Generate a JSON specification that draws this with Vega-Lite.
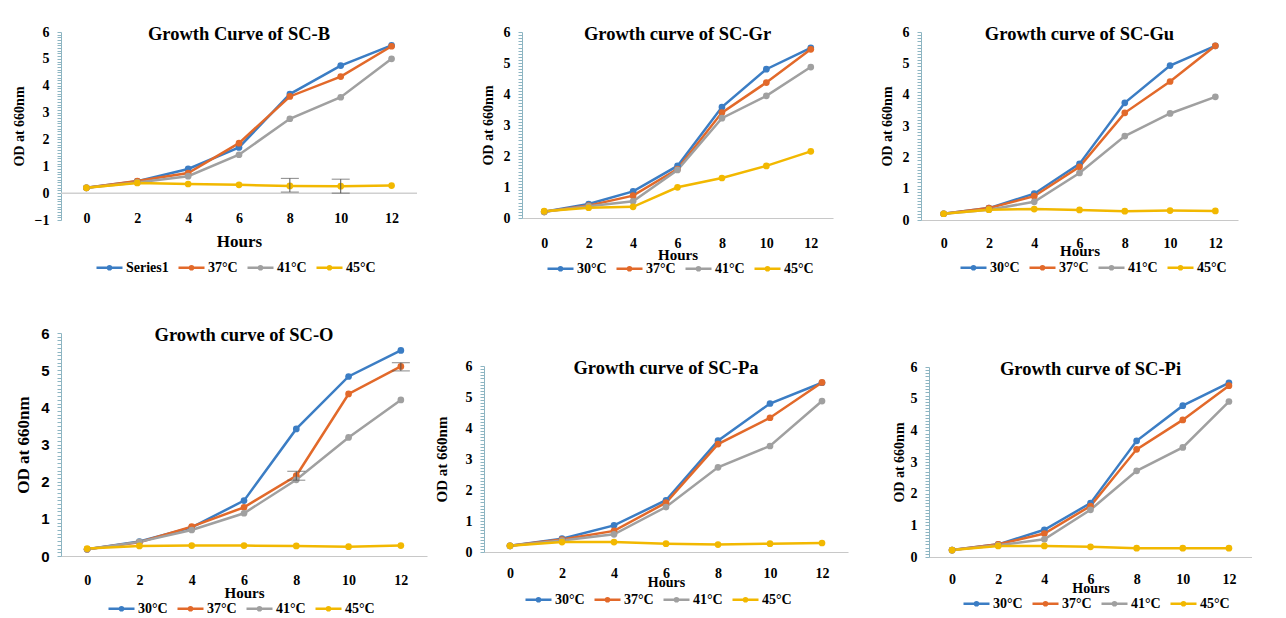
{
"$schema": "https://vega.github.io/schema/vega-lite/v6.json",
"padding": {"left": 12, "top": 24, "right": 0, "bottom": 0},
"background": "white",
"datasets": {
"d": [
{"p":"B","s":"Series1","h":0,"v":0.2},{"p":"B","s":"Series1","h":2,"v":0.44},{"p":"B","s":"Series1","h":4,"v":0.9},{"p":"B","s":"Series1","h":6,"v":1.7},{"p":"B","s":"Series1","h":8,"v":3.69},{"p":"B","s":"Series1","h":10,"v":4.75},{"p":"B","s":"Series1","h":12,"v":5.5},
{"p":"B","s":"37°C","h":0,"v":0.2},{"p":"B","s":"37°C","h":2,"v":0.45},{"p":"B","s":"37°C","h":4,"v":0.75},{"p":"B","s":"37°C","h":6,"v":1.86},{"p":"B","s":"37°C","h":8,"v":3.6},{"p":"B","s":"37°C","h":10,"v":4.34},{"p":"B","s":"37°C","h":12,"v":5.47},
{"p":"B","s":"41°C","h":0,"v":0.2},{"p":"B","s":"41°C","h":2,"v":0.4},{"p":"B","s":"41°C","h":4,"v":0.63},{"p":"B","s":"41°C","h":6,"v":1.43},{"p":"B","s":"41°C","h":8,"v":2.77},{"p":"B","s":"41°C","h":10,"v":3.57},{"p":"B","s":"41°C","h":12,"v":5.0},
{"p":"B","s":"45°C","h":0,"v":0.2},{"p":"B","s":"45°C","h":2,"v":0.38},{"p":"B","s":"45°C","h":4,"v":0.34},{"p":"B","s":"45°C","h":6,"v":0.31},{"p":"B","s":"45°C","h":8,"v":0.27},{"p":"B","s":"45°C","h":10,"v":0.26},{"p":"B","s":"45°C","h":12,"v":0.28},
{"p":"Gr","s":"30°C","h":0,"v":0.2},{"p":"Gr","s":"30°C","h":2,"v":0.45},{"p":"Gr","s":"30°C","h":4,"v":0.86},{"p":"Gr","s":"30°C","h":6,"v":1.68},{"p":"Gr","s":"30°C","h":8,"v":3.58},{"p":"Gr","s":"30°C","h":10,"v":4.8},{"p":"Gr","s":"30°C","h":12,"v":5.49},
{"p":"Gr","s":"37°C","h":0,"v":0.2},{"p":"Gr","s":"37°C","h":2,"v":0.4},{"p":"Gr","s":"37°C","h":4,"v":0.72},{"p":"Gr","s":"37°C","h":6,"v":1.58},{"p":"Gr","s":"37°C","h":8,"v":3.4},{"p":"Gr","s":"37°C","h":10,"v":4.37},{"p":"Gr","s":"37°C","h":12,"v":5.44},
{"p":"Gr","s":"41°C","h":0,"v":0.2},{"p":"Gr","s":"41°C","h":2,"v":0.38},{"p":"Gr","s":"41°C","h":4,"v":0.54},{"p":"Gr","s":"41°C","h":6,"v":1.55},{"p":"Gr","s":"41°C","h":8,"v":3.22},{"p":"Gr","s":"41°C","h":10,"v":3.94},{"p":"Gr","s":"41°C","h":12,"v":4.87},
{"p":"Gr","s":"45°C","h":0,"v":0.22},{"p":"Gr","s":"45°C","h":2,"v":0.33},{"p":"Gr","s":"45°C","h":4,"v":0.36},{"p":"Gr","s":"45°C","h":6,"v":0.99},{"p":"Gr","s":"45°C","h":8,"v":1.29},{"p":"Gr","s":"45°C","h":10,"v":1.68},{"p":"Gr","s":"45°C","h":12,"v":2.15},
{"p":"Gu","s":"30°C","h":0,"v":0.2},{"p":"Gu","s":"30°C","h":2,"v":0.38},{"p":"Gu","s":"30°C","h":4,"v":0.84},{"p":"Gu","s":"30°C","h":6,"v":1.79},{"p":"Gu","s":"30°C","h":8,"v":3.74},{"p":"Gu","s":"30°C","h":10,"v":4.93},{"p":"Gu","s":"30°C","h":12,"v":5.56},
{"p":"Gu","s":"37°C","h":0,"v":0.2},{"p":"Gu","s":"37°C","h":2,"v":0.38},{"p":"Gu","s":"37°C","h":4,"v":0.76},{"p":"Gu","s":"37°C","h":6,"v":1.7},{"p":"Gu","s":"37°C","h":8,"v":3.42},{"p":"Gu","s":"37°C","h":10,"v":4.42},{"p":"Gu","s":"37°C","h":12,"v":5.56},
{"p":"Gu","s":"41°C","h":0,"v":0.2},{"p":"Gu","s":"41°C","h":2,"v":0.33},{"p":"Gu","s":"41°C","h":4,"v":0.58},{"p":"Gu","s":"41°C","h":6,"v":1.5},{"p":"Gu","s":"41°C","h":8,"v":2.68},{"p":"Gu","s":"41°C","h":10,"v":3.4},{"p":"Gu","s":"41°C","h":12,"v":3.93},
{"p":"Gu","s":"45°C","h":0,"v":0.2},{"p":"Gu","s":"45°C","h":2,"v":0.33},{"p":"Gu","s":"45°C","h":4,"v":0.35},{"p":"Gu","s":"45°C","h":6,"v":0.32},{"p":"Gu","s":"45°C","h":8,"v":0.28},{"p":"Gu","s":"45°C","h":10,"v":0.3},{"p":"Gu","s":"45°C","h":12,"v":0.29},
{"p":"O","s":"30°C","h":0,"v":0.18},{"p":"O","s":"30°C","h":2,"v":0.39},{"p":"O","s":"30°C","h":4,"v":0.77},{"p":"O","s":"30°C","h":6,"v":1.49},{"p":"O","s":"30°C","h":8,"v":3.42},{"p":"O","s":"30°C","h":10,"v":4.83},{"p":"O","s":"30°C","h":12,"v":5.53},
{"p":"O","s":"37°C","h":0,"v":0.18},{"p":"O","s":"37°C","h":2,"v":0.37},{"p":"O","s":"37°C","h":4,"v":0.79},{"p":"O","s":"37°C","h":6,"v":1.31},{"p":"O","s":"37°C","h":8,"v":2.16},{"p":"O","s":"37°C","h":10,"v":4.36},{"p":"O","s":"37°C","h":12,"v":5.1},
{"p":"O","s":"41°C","h":0,"v":0.18},{"p":"O","s":"41°C","h":2,"v":0.38},{"p":"O","s":"41°C","h":4,"v":0.7},{"p":"O","s":"41°C","h":6,"v":1.15},{"p":"O","s":"41°C","h":8,"v":2.05},{"p":"O","s":"41°C","h":10,"v":3.19},{"p":"O","s":"41°C","h":12,"v":4.2},
{"p":"O","s":"45°C","h":0,"v":0.2},{"p":"O","s":"45°C","h":2,"v":0.27},{"p":"O","s":"45°C","h":4,"v":0.28},{"p":"O","s":"45°C","h":6,"v":0.28},{"p":"O","s":"45°C","h":8,"v":0.27},{"p":"O","s":"45°C","h":10,"v":0.25},{"p":"O","s":"45°C","h":12,"v":0.28},
{"p":"Pa","s":"30°C","h":0,"v":0.2},{"p":"Pa","s":"30°C","h":2,"v":0.43},{"p":"Pa","s":"30°C","h":4,"v":0.86},{"p":"Pa","s":"30°C","h":6,"v":1.67},{"p":"Pa","s":"30°C","h":8,"v":3.59},{"p":"Pa","s":"30°C","h":10,"v":4.79},{"p":"Pa","s":"30°C","h":12,"v":5.46},
{"p":"Pa","s":"37°C","h":0,"v":0.2},{"p":"Pa","s":"37°C","h":2,"v":0.4},{"p":"Pa","s":"37°C","h":4,"v":0.68},{"p":"Pa","s":"37°C","h":6,"v":1.59},{"p":"Pa","s":"37°C","h":8,"v":3.48},{"p":"Pa","s":"37°C","h":10,"v":4.33},{"p":"Pa","s":"37°C","h":12,"v":5.47},
{"p":"Pa","s":"41°C","h":0,"v":0.2},{"p":"Pa","s":"41°C","h":2,"v":0.37},{"p":"Pa","s":"41°C","h":4,"v":0.57},{"p":"Pa","s":"41°C","h":6,"v":1.45},{"p":"Pa","s":"41°C","h":8,"v":2.73},{"p":"Pa","s":"41°C","h":10,"v":3.42},{"p":"Pa","s":"41°C","h":12,"v":4.87},
{"p":"Pa","s":"45°C","h":0,"v":0.2},{"p":"Pa","s":"45°C","h":2,"v":0.32},{"p":"Pa","s":"45°C","h":4,"v":0.32},{"p":"Pa","s":"45°C","h":6,"v":0.27},{"p":"Pa","s":"45°C","h":8,"v":0.24},{"p":"Pa","s":"45°C","h":10,"v":0.27},{"p":"Pa","s":"45°C","h":12,"v":0.29},
{"p":"Pi","s":"30°C","h":0,"v":0.22},{"p":"Pi","s":"30°C","h":2,"v":0.4},{"p":"Pi","s":"30°C","h":4,"v":0.86},{"p":"Pi","s":"30°C","h":6,"v":1.7},{"p":"Pi","s":"30°C","h":8,"v":3.67},{"p":"Pi","s":"30°C","h":10,"v":4.78},{"p":"Pi","s":"30°C","h":12,"v":5.5},
{"p":"Pi","s":"37°C","h":0,"v":0.22},{"p":"Pi","s":"37°C","h":2,"v":0.4},{"p":"Pi","s":"37°C","h":4,"v":0.74},{"p":"Pi","s":"37°C","h":6,"v":1.61},{"p":"Pi","s":"37°C","h":8,"v":3.4},{"p":"Pi","s":"37°C","h":10,"v":4.33},{"p":"Pi","s":"37°C","h":12,"v":5.41},
{"p":"Pi","s":"41°C","h":0,"v":0.22},{"p":"Pi","s":"41°C","h":2,"v":0.37},{"p":"Pi","s":"41°C","h":4,"v":0.56},{"p":"Pi","s":"41°C","h":6,"v":1.49},{"p":"Pi","s":"41°C","h":8,"v":2.72},{"p":"Pi","s":"41°C","h":10,"v":3.46},{"p":"Pi","s":"41°C","h":12,"v":4.91},
{"p":"Pi","s":"45°C","h":0,"v":0.22},{"p":"Pi","s":"45°C","h":2,"v":0.35},{"p":"Pi","s":"45°C","h":4,"v":0.35},{"p":"Pi","s":"45°C","h":6,"v":0.32},{"p":"Pi","s":"45°C","h":8,"v":0.28},{"p":"Pi","s":"45°C","h":10,"v":0.28},{"p":"Pi","s":"45°C","h":12,"v":0.28}
],
"e": [
{"p":"B","h":8,"lo":0.04,"hi":0.55},{"p":"B","h":10,"lo":0.0,"hi":0.52},
{"p":"O","h":8,"lo":2.04,"hi":2.28},{"p":"O","h":12,"lo":4.98,"hi":5.2}
],
"z": [{"y":0}]
},
"vconcat": [
{"hconcat": [
 {"hconcat": [
 {"width":356,"height":188,"title":"Growth Curve of SC-B",
  "layer":[
  {"data":{"name":"z"},"mark":{"type":"rule","color":"#D0D0D0","strokeWidth":1.5},"encoding":{"y":{"field":"y","type":"quantitative","title":"OD at 660nm","scale":{"domain":[-1,6],"nice":false,"zero":false},"axis":{"values":[-1,-0.9,-0.8,-0.7,-0.6,-0.5,-0.4,-0.3,-0.2,-0.1,0,0.1,0.2,0.3,0.4,0.5,0.6,0.7,0.8,0.9,1,1.1,1.2,1.3,1.4,1.5,1.6,1.7,1.8,1.9,2,2.1,2.2,2.3,2.4,2.5,2.6,2.7,2.8,2.9,3,3.1,3.2,3.3,3.4,3.5,3.6,3.7,3.8,3.9,4,4.1,4.2,4.3,4.4,4.5,4.6,4.7,4.8,4.9,5,5.1,5.2,5.3,5.4,5.5,5.6,5.7,5.8,5.9,6]}}}},
  {"data":{"name":"d"},"transform":[{"filter":"datum.p==='B'"}],"mark":{"type":"line","strokeWidth":2.5,"point":{"filled":true,"size":45}},
   "encoding":{
    "x":{"field":"h","type":"ordinal","title":"Hours","scale":{"type":"point","padding":0.5,"domain":[0,2,4,6,8,10,12]},"axis":{"domain":false,"labelPadding":-9,"titlePadding":8,"titleFontSize":17}},
    "y":{"field":"v","type":"quantitative","title":"OD at 660nm","scale":{"domain":[-1,6],"nice":false,"zero":false},"axis":{"values":[-1,-0.9,-0.8,-0.7,-0.6,-0.5,-0.4,-0.3,-0.2,-0.1,0,0.1,0.2,0.3,0.4,0.5,0.6,0.7,0.8,0.9,1,1.1,1.2,1.3,1.4,1.5,1.6,1.7,1.8,1.9,2,2.1,2.2,2.3,2.4,2.5,2.6,2.7,2.8,2.9,3,3.1,3.2,3.3,3.4,3.5,3.6,3.7,3.8,3.9,4,4.1,4.2,4.3,4.4,4.5,4.6,4.7,4.8,4.9,5,5.1,5.2,5.3,5.4,5.5,5.6,5.7,5.8,5.9,6]}},
    "color":{"field":"s","type":"nominal","scale":{"domain":["Series1","37°C","41°C","45°C"],"range":["#3B7DC4","#E2692A","#A0A0A0","#F2B800"]},"legend":{"title":null,"orient":"none","direction":"horizontal","legendX":34,"legendY":221}}}},
  {"data":{"name":"e"},"transform":[{"filter":"datum.p==='B'"}],"mark":{"type":"errorbar","ticks":true,"color":"#555555","thickness":1},
   "encoding":{"x":{"field":"h","type":"ordinal"},"y":{"field":"lo","type":"quantitative","title":"OD at 660nm","axis":{"values":[-1,-0.9,-0.8,-0.7,-0.6,-0.5,-0.4,-0.3,-0.2,-0.1,0,0.1,0.2,0.3,0.4,0.5,0.6,0.7,0.8,0.9,1,1.1,1.2,1.3,1.4,1.5,1.6,1.7,1.8,1.9,2,2.1,2.2,2.3,2.4,2.5,2.6,2.7,2.8,2.9,3,3.1,3.2,3.3,3.4,3.5,3.6,3.7,3.8,3.9,4,4.1,4.2,4.3,4.4,4.5,4.6,4.7,4.8,4.9,5,5.1,5.2,5.3,5.4,5.5,5.6,5.7,5.8,5.9,6]}},"y2":{"field":"hi"}}}
  ]},
 {"width":311,"height":186,"title":"Growth curve of SC-Gr",
  "data":{"name":"d"},"transform":[{"filter":"datum.p==='Gr'"}],"mark":{"type":"line","strokeWidth":2.5,"point":{"filled":true,"size":45}},
  "encoding":{
   "x":{"field":"h","type":"ordinal","title":"Hours","scale":{"type":"point","padding":0.5,"domain":[0,2,4,6,8,10,12]},"axis":{"labelPadding":18,"titlePadding":-3}},
   "y":{"field":"v","type":"quantitative","title":"OD at 660nm","scale":{"domain":[0,6],"nice":false},"axis":{"values":[0,0.1,0.2,0.3,0.4,0.5,0.6,0.7,0.8,0.9,1,1.1,1.2,1.3,1.4,1.5,1.6,1.7,1.8,1.9,2,2.1,2.2,2.3,2.4,2.5,2.6,2.7,2.8,2.9,3,3.1,3.2,3.3,3.4,3.5,3.6,3.7,3.8,3.9,4,4.1,4.2,4.3,4.4,4.5,4.6,4.7,4.8,4.9,5,5.1,5.2,5.3,5.4,5.5,5.6,5.7,5.8,5.9,6]}},
   "color":{"field":"s","type":"nominal","scale":{"domain":["30°C","37°C","41°C","45°C"],"range":["#3B7DC4","#E2692A","#A0A0A0","#F2B800"]},"legend":{"title":null,"orient":"none","direction":"horizontal","legendX":24,"legendY":222}}}}
 ], "spacing": 63, "resolve":{"scale":{"color":"independent","x":"independent","y":"independent"},"legend":{"color":"independent"}}},
 {"width":317,"height":188,"title":"Growth curve of SC-Gu",
  "data":{"name":"d"},"transform":[{"filter":"datum.p==='Gu'"}],"mark":{"type":"line","strokeWidth":2.5,"point":{"filled":true,"size":45}},
  "encoding":{
   "x":{"field":"h","type":"ordinal","title":"Hours","scale":{"type":"point","padding":0.5,"domain":[0,2,4,6,8,10,12]},"axis":{"labelPadding":16,"titlePadding":-7}},
   "y":{"field":"v","type":"quantitative","title":"OD at 660nm","scale":{"domain":[0,6],"nice":false},"axis":{"values":[0,0.1,0.2,0.3,0.4,0.5,0.6,0.7,0.8,0.9,1,1.1,1.2,1.3,1.4,1.5,1.6,1.7,1.8,1.9,2,2.1,2.2,2.3,2.4,2.5,2.6,2.7,2.8,2.9,3,3.1,3.2,3.3,3.4,3.5,3.6,3.7,3.8,3.9,4,4.1,4.2,4.3,4.4,4.5,4.6,4.7,4.8,4.9,5,5.1,5.2,5.3,5.4,5.5,5.6,5.7,5.8,5.9,6]}},
   "color":{"field":"s","type":"nominal","scale":{"domain":["30°C","37°C","41°C","45°C"],"range":["#3B7DC4","#E2692A","#A0A0A0","#F2B800"]},"legend":{"title":null,"orient":"none","direction":"horizontal","legendX":38,"legendY":221}}}}
], "spacing": 47, "resolve":{"scale":{"color":"independent","x":"independent","y":"independent"},"legend":{"color":"independent"}}},
{"hconcat": [
 {"hconcat": [
 {"width":366,"height":223,"title":"Growth curve of SC-O",
  "layer":[
  {"data":{"name":"d"},"transform":[{"filter":"datum.p==='O'"}],"mark":{"type":"line","strokeWidth":2.5,"point":{"filled":true,"size":45}},
   "encoding":{
    "x":{"field":"h","type":"ordinal","title":"Hours","scale":{"type":"point","padding":0.5,"domain":[0,2,4,6,8,10,12]},"axis":{"labelPadding":17,"titlePadding":-2}},
    "y":{"field":"v","type":"quantitative","title":"OD at 660nm","scale":{"domain":[0,6],"nice":false},"axis":{"labelFont":"Liberation Sans","labelFontSize":15,"titleFontSize":17,"values":[0,0.1,0.2,0.3,0.4,0.5,0.6,0.7,0.8,0.9,1,1.1,1.2,1.3,1.4,1.5,1.6,1.7,1.8,1.9,2,2.1,2.2,2.3,2.4,2.5,2.6,2.7,2.8,2.9,3,3.1,3.2,3.3,3.4,3.5,3.6,3.7,3.8,3.9,4,4.1,4.2,4.3,4.4,4.5,4.6,4.7,4.8,4.9,5,5.1,5.2,5.3,5.4,5.5,5.6,5.7,5.8,5.9,6]}},
    "color":{"field":"s","type":"nominal","scale":{"domain":["30°C","37°C","41°C","45°C"],"range":["#3B7DC4","#E2692A","#A0A0A0","#F2B800"]},"legend":{"title":null,"orient":"none","direction":"horizontal","legendX":46,"legendY":261}}}},
  {"data":{"name":"e"},"transform":[{"filter":"datum.p==='O'"}],"mark":{"type":"errorbar","ticks":true,"color":"#555555","thickness":1},
   "encoding":{"x":{"field":"h","type":"ordinal"},"y":{"field":"lo","type":"quantitative","title":"OD at 660nm","axis":{"labelFont":"Liberation Sans","labelFontSize":15,"titleFontSize":17,"values":[0,0.1,0.2,0.3,0.4,0.5,0.6,0.7,0.8,0.9,1,1.1,1.2,1.3,1.4,1.5,1.6,1.7,1.8,1.9,2,2.1,2.2,2.3,2.4,2.5,2.6,2.7,2.8,2.9,3,3.1,3.2,3.3,3.4,3.5,3.6,3.7,3.8,3.9,4,4.1,4.2,4.3,4.4,4.5,4.6,4.7,4.8,4.9,5,5.1,5.2,5.3,5.4,5.5,5.6,5.7,5.8,5.9,6]}},"y2":{"field":"hi"}}}
  ]},
 {"vconcat":[
  {"width":300,"height":25,"data":{"values":[]},"mark":"point"},
  {"width":364,"height":186,"title":"Growth curve of SC-Pa",
   "data":{"name":"d"},"transform":[{"filter":"datum.p==='Pa'"}],"mark":{"type":"line","strokeWidth":2.5,"point":{"filled":true,"size":45}},
   "encoding":{
    "x":{"field":"h","type":"ordinal","title":"Hours","scale":{"type":"point","padding":0.5,"domain":[0,2,4,6,8,10,12]},"axis":{"labelPadding":14,"titlePadding":-5,"titleFontSize":14}},
    "y":{"field":"v","type":"quantitative","title":"OD at 660nm","scale":{"domain":[0,6],"nice":false},"axis":{"titleFontSize":15,"titlePadding":16,"values":[0,0.1,0.2,0.3,0.4,0.5,0.6,0.7,0.8,0.9,1,1.1,1.2,1.3,1.4,1.5,1.6,1.7,1.8,1.9,2,2.1,2.2,2.3,2.4,2.5,2.6,2.7,2.8,2.9,3,3.1,3.2,3.3,3.4,3.5,3.6,3.7,3.8,3.9,4,4.1,4.2,4.3,4.4,4.5,4.6,4.7,4.8,4.9,5,5.1,5.2,5.3,5.4,5.5,5.6,5.7,5.8,5.9,6]}},
    "color":{"field":"s","type":"nominal","scale":{"domain":["30°C","37°C","41°C","45°C"],"range":["#3B7DC4","#E2692A","#A0A0A0","#F2B800"]},"legend":{"title":null,"orient":"none","direction":"horizontal","legendX":40,"legendY":219}}}}
 ], "spacing": 0, "resolve":{"scale":{"color":"independent","x":"independent","y":"independent"},"legend":{"color":"independent"}}}
 ], "spacing": 7, "resolve":{"scale":{"color":"independent","x":"independent","y":"independent"},"legend":{"color":"independent"}}},
 {"vconcat":[
  {"width":300,"height":26,"data":{"values":[]},"mark":"point"},
  {"width":323,"height":190,"title":"Growth curve of SC-Pi",
   "data":{"name":"d"},"transform":[{"filter":"datum.p==='Pi'"}],"mark":{"type":"line","strokeWidth":2.5,"point":{"filled":true,"size":45}},
   "encoding":{
    "x":{"field":"h","type":"ordinal","title":"Hours","scale":{"type":"point","padding":0.5,"domain":[0,2,4,6,8,10,12]},"axis":{"labelPadding":15,"titlePadding":-5,"titleFontSize":14}},
    "y":{"field":"v","type":"quantitative","title":"OD at 660nm","scale":{"domain":[0,6],"nice":false},"axis":{"titlePadding":4,"values":[0,0.1,0.2,0.3,0.4,0.5,0.6,0.7,0.8,0.9,1,1.1,1.2,1.3,1.4,1.5,1.6,1.7,1.8,1.9,2,2.1,2.2,2.3,2.4,2.5,2.6,2.7,2.8,2.9,3,3.1,3.2,3.3,3.4,3.5,3.6,3.7,3.8,3.9,4,4.1,4.2,4.3,4.4,4.5,4.6,4.7,4.8,4.9,5,5.1,5.2,5.3,5.4,5.5,5.6,5.7,5.8,5.9,6]}},
    "color":{"field":"s","type":"nominal","scale":{"domain":["30°C","37°C","41°C","45°C"],"range":["#3B7DC4","#E2692A","#A0A0A0","#F2B800"]},"legend":{"title":null,"orient":"none","direction":"horizontal","legendX":33,"legendY":222}}}}
 ], "spacing": 0, "resolve":{"scale":{"color":"independent","x":"independent","y":"independent"},"legend":{"color":"independent"}}}
], "spacing": 44, "resolve":{"scale":{"color":"independent","x":"independent","y":"independent"},"legend":{"color":"independent"}}}
],
"spacing": 49,
"resolve":{"scale":{"color":"independent","x":"independent","y":"independent"},"legend":{"color":"independent"}},
"config": {
 "font": "Liberation Serif",
 "view": {"stroke": null},
 "title": {"font":"Liberation Serif","fontSize":18.5,"fontWeight":"bold","color":"#000000","anchor":"middle","frame":"group","offset":-18},
 "axis": {"grid":false,"labelFont":"Liberation Serif","labelFontWeight":"bold","labelFontSize":14,"labelColor":"#000000","titleFont":"Liberation Serif","titleFontWeight":"bold","titleColor":"#000000","titleFontSize":14},
 "axisX": {"ticks":false,"domainColor":"#C8C8C8","domainWidth":1.2,"labelAngle":0,"titleFontSize":15},
 "axisY": {"domainColor":"#8DB5C2","tickColor":"#8DB5C2","tickSize":4,"tickWidth":1,"labelOverlap":false,"labelPadding":8,"titlePadding":8,"labelFontSize":14,
   "labelExpr":"datum.value % 1 === 0 ? format(datum.value, 'd') : ''"},
 "legend": {"labelFont":"Liberation Serif","labelFontWeight":"bold","labelFontSize":14,"labelColor":"#000000",
   "symbolType":"M-1,0L1,0M-0.12,0A0.12,0.12,0,1,0,0.12,0A0.12,0.12,0,1,0,-0.12,0","symbolSize":676,"symbolStrokeWidth":2.5,"columnPadding":4,"labelOffset":2}
}
}
